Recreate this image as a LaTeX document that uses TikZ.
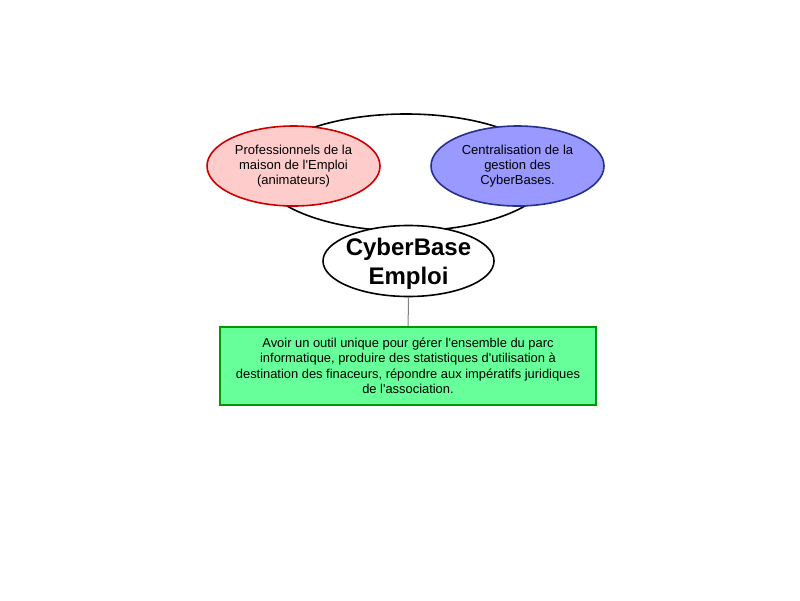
\documentclass[tikz,border=0pt]{standalone}
\usepackage{fontspec}
\setmainfont{Liberation Sans}
\usetikzlibrary{shapes.geometric}

\definecolor{redfill}{RGB}{255,204,204}
\definecolor{redline}{RGB}{204,0,0}
\definecolor{bluefill}{RGB}{153,153,255}
\definecolor{blueline}{RGB}{36,48,140}
\definecolor{greenfill}{RGB}{102,255,153}
\definecolor{greenline}{RGB}{0,153,0}
\newcommand{\ap}{\textquotesingle}

\begin{document}
\begin{tikzpicture}[x=1pt,y=-1pt,every node/.style={ellipse,draw,line width=1.6pt,inner sep=0pt,align=center,font=\fontsize{13}{15}\selectfont}]

\useasboundingbox (0,0) rectangle (800,600);

\node[minimum width=290,minimum height=117](ring) at (406,172.5) {};
\node[fill=redfill,draw=redline,minimum width=173,minimum height=80](staff) at (293.5,166) {Professionnels de la\\maison de l\ap Emploi\\(animateurs)};
\node[fill=bluefill,draw=blueline,minimum width=173,minimum height=80](central) at (517.5,166) {Centralisation de la\\gestion des\\CyberBases.};
\node[fill=white,inner sep=-6pt,minimum width=171,minimum height=71,text depth=0pt,font=\fontsize{24}{29}\selectfont\bfseries](core) at (408.5,261) {CyberBase\\Emploi};
\node[rectangle,fill=greenfill,draw=greenline,minimum width=376,minimum height=78,font=\fontsize{12.9}{15.5}\selectfont](goal) at (408,366) {Avoir un outil unique pour gérer l\ap ensemble du parc\\informatique, produire des statistiques d\ap utilisation à\\destination des finaceurs, répondre aux impératifs juridiques\\de l\ap association.};

\draw[line width=1pt,color=gray](core)--(goal);
\end{tikzpicture}
\end{document}
